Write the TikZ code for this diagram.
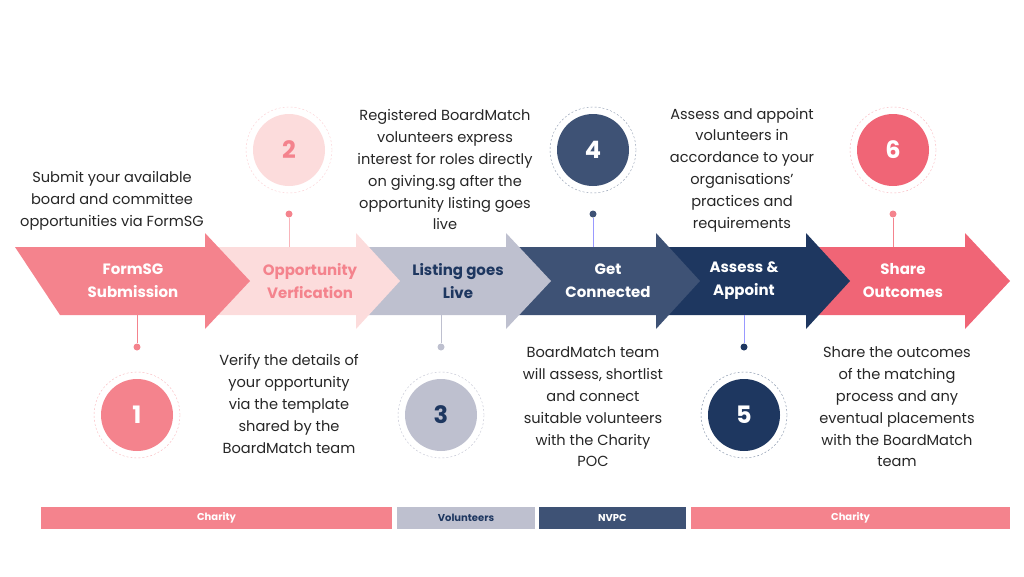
\documentclass[tikz,border=0pt]{standalone}
\usepackage{fontspec}
\setmainfont{Poppins}
\definecolor{pinkA}{HTML}{F4838D}
\definecolor{pinkB}{HTML}{FCDCDC}
\definecolor{greyC}{HTML}{BEC0CF}
\definecolor{navyD}{HTML}{3E5275}
\definecolor{navyE}{HTML}{1E3760}
\definecolor{redF}{HTML}{F06576}
\definecolor{txt}{HTML}{262626}
\tikzset{
  stage/.style={font=\fontsize{15}{23}\selectfont\bfseries, align=center},
  desc/.style={font=\fontsize{14.6}{21.8}\selectfont, text=txt, align=center},
  num/.style={circle, minimum size=72pt, font=\fontsize{24}{24}\selectfont\bfseries},
  halo/.style={circle, minimum size=86pt, draw=#1, dashed, dash pattern=on 2pt off 2pt, line width=0.4pt},
  pin/.style={circle, fill=#1, inner sep=0pt, minimum size=7pt},
  bar/.style={minimum height=22pt, inner sep=0pt, font=\fontsize{10}{10}\selectfont\bfseries}
}
\begin{document}
\begin{tikzpicture}[x=1pt,y=-1pt]
  \useasboundingbox (0,0) rectangle (1024,576);
  % arrows, back to front
  \fill[redF] (806,247) -- (965,247) -- (965,233) -- (1010,281) -- (965,329) -- (965,315) -- (806,315) -- cycle;
  \fill[navyE] (656,247) -- (806,247) -- (806,233) -- (850,281) -- (806,329) -- (806,315) -- (656,315) -- cycle;
  \fill[navyD] (506,247) -- (656,247) -- (656,233) -- (700,281) -- (656,329) -- (656,315) -- (506,315) -- cycle;
  \fill[greyC] (356,247) -- (506,247) -- (506,233) -- (551,281) -- (506,329) -- (506,315) -- (356,315) -- cycle;
  \fill[pinkB] (205,247) -- (356,247) -- (356,233) -- (400,281) -- (356,329) -- (356,315) -- (205,315) -- cycle;
  \fill[pinkA] (15,247) -- (205,247) -- (205,233) -- (250,281) -- (205,329) -- (205,315) -- (60,315) -- cycle;
  % arrow labels
  \node[stage, text=white] (s1) at (133,281) {FormSG\\Submission};
  \node[stage, text=pinkA] (s2) at (310,281) {Opportunity\\Verfication};
  \node[stage, text=navyE] (s3) at (458,281) {Listing goes\\Live};
  \node[stage, text=white] (s4) at (608,281) {Get\\Connected};
  \node[stage, text=white] (s5) at (744,281) {Assess \&\\Appoint};
  \node[stage, text=white] (s6) at (903,281) {Share\\Outcomes};
  % number circles
  \node[halo=pinkA!60] at (137,415) {};
  \node[num, fill=pinkA, text=white] (n1) at (137,415) {1};
  \node[halo=pinkA!40] at (289,150) {};
  \node[num, fill=pinkB, text=pinkA] (n2) at (289,150) {2};
  \node[halo=greyC] at (441,415) {};
  \node[num, fill=greyC, text=navyE] (n3) at (441,415) {3};
  \node[halo=navyD!60] at (593,150) {};
  \node[num, fill=navyD, text=white] (n4) at (593,150) {4};
  \node[halo=navyE!60] at (744,415) {};
  \node[num, fill=navyE, text=white] (n5) at (744,415) {5};
  \node[halo=redF!50] at (893,150) {};
  \node[num, fill=redF, text=white] (n6) at (893,150) {6};
  % pins
  \node[pin=pinkA] (p1) at (137,347) {};
  \node[pin=pinkA] (p2) at (289,214) {};
  \node[pin=greyC] (p3) at (441,347) {};
  \node[pin=navyD] (p4) at (593,214) {};
  \node[pin=navyE] (p5) at (744,347) {};
  \node[pin=pinkA] (p6) at (893,214) {};
  \coordinate (a1) at (137,315);
  \coordinate (a2) at (289,247);
  \coordinate (a3) at (441,315);
  \coordinate (a4) at (593,247);
  \coordinate (a5) at (744,315);
  \coordinate (a6) at (893,247);
  \draw[pinkA] (a1) -- (p1);
  \draw[pinkA!60] (a2) -- (p2);
  \draw[greyC] (a3) -- (p3);
  \draw[blue!40] (a4) -- (p4);
  \draw[blue!40] (a5) -- (p5);
  \draw[pinkA] (a6) -- (p6);
  % descriptions
  \node[desc] (d1) at (112,201) {Submit your available\\board and committee\\opportunities via FormSG};
  \node[desc] (d2) at (289,404) {Verify the details of\\your opportunity\\via the template\\shared by the\\BoardMatch team};
  \node[desc] (d3) at (445,170) {Registered BoardMatch\\volunteers express\\interest for roles directly\\on giving.sg after the\\opportunity listing goes\\live};
  \node[desc] (d4) at (593,407) {BoardMatch team\\will assess, shortlist\\and connect\\suitable volunteers\\with the Charity\\POC};
  \node[desc] (d5) at (742,170) {Assess and appoint\\volunteers in\\accordance to your\\organisations'\\practices and\\requirements};
  \node[desc] (d6) at (897,407) {Share the outcomes\\of the matching\\process and any\\eventual placements\\with the BoardMatch\\team};
  % owner bars
  \node[bar, fill=pinkA, text=white, minimum width=351pt] (b1) at (216.5,518) {Charity};
  \node[bar, fill=greyC, text=navyE, minimum width=138pt] (b2) at (466,518) {Volunteers};
  \node[bar, fill=navyD, text=white, minimum width=147pt] (b3) at (612.5,518) {NVPC};
  \node[bar, fill=pinkA, text=white, minimum width=319pt] (b4) at (850.5,518) {Charity};
\end{tikzpicture}
\end{document}
